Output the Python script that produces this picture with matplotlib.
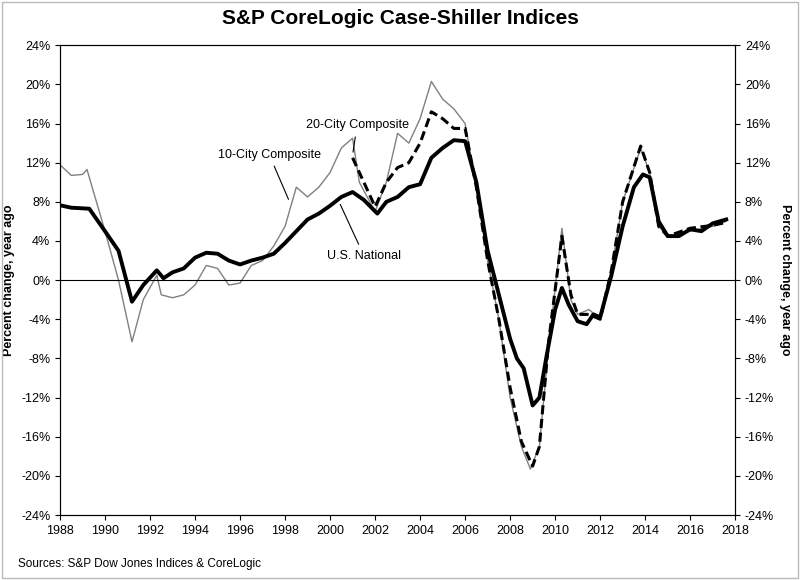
import matplotlib.pyplot as plt
from matplotlib.ticker import MultipleLocator, FuncFormatter

plt.rcParams['font.family'] = ['Liberation Sans', 'DejaVu Sans']

# U.S. National (year, % change)
nat_t = [1987.9, 1988.5, 1989.3, 1990.0, 1990.6, 1991.2, 1991.7, 1992.3, 1992.6, 1993.0, 1993.5, 1994.0,
         1994.5, 1995.0, 1995.5, 1996.0, 1996.5, 1997.0, 1997.5, 1998.0, 1998.5, 1999.0, 1999.5, 2000.0,
         2000.5, 2001.0, 2001.5, 2002.1, 2002.5, 2003.0, 2003.5, 2004.0, 2004.5, 2005.0, 2005.5, 2006.0,
         2006.5, 2007.0, 2007.5, 2008.0, 2008.3, 2008.6, 2009.0, 2009.3, 2009.6, 2010.0, 2010.3, 2010.6,
         2011.0, 2011.4, 2011.7, 2012.0, 2012.5, 2013.0, 2013.5, 2013.9, 2014.2, 2014.6, 2015.0, 2015.5,
         2016.0, 2016.5, 2017.0, 2017.6]
nat_v = [7.7, 7.4, 7.3, 5.0, 3.0, -2.2, -0.5, 1.0, 0.2, 0.8, 1.2, 2.3,
         2.8, 2.7, 2.0, 1.6, 2.0, 2.3, 2.7, 3.8, 5.0, 6.2, 6.8, 7.6,
         8.5, 9.0, 8.2, 6.8, 8.0, 8.5, 9.5, 9.8, 12.5, 13.5, 14.3, 14.2,
         10.0, 3.0, -1.5, -6.0, -8.0, -9.0, -12.8, -12.0, -8.0, -3.0, -0.8, -2.5,
         -4.2, -4.5, -3.5, -3.8, 0.5, 5.5, 9.5, 10.8, 10.5, 6.0, 4.5, 4.5,
         5.2, 5.0, 5.8, 6.2]

# 10-City Composite
c10_t = [1987.9, 1988.5, 1989.0, 1989.2, 1990.0, 1990.6, 1991.2, 1991.7, 1992.3, 1992.5, 1993.0, 1993.5,
         1994.0, 1994.5, 1995.0, 1995.5, 1996.0, 1996.5, 1997.0, 1997.5, 1998.0, 1998.5, 1999.0, 1999.5,
         2000.0, 2000.5, 2001.0, 2001.3, 2002.0, 2002.5, 2003.0, 2003.5, 2004.0, 2004.5, 2005.0, 2005.5,
         2006.0, 2006.5, 2007.0, 2007.5, 2008.0, 2008.5, 2008.9, 2009.3, 2009.7, 2010.3, 2010.7, 2011.0,
         2011.5, 2012.0, 2012.5, 2013.0, 2013.8, 2014.2, 2014.6, 2015.0, 2016.0, 2017.0, 2017.6]
c10_v = [12.0, 10.7, 10.8, 11.3, 5.0, 0.0, -6.3, -2.0, 0.5, -1.5, -1.8, -1.5,
         -0.5, 1.5, 1.2, -0.5, -0.3, 1.5, 2.0, 3.5, 5.5, 9.5, 8.5, 9.5,
         11.0, 13.5, 14.5, 10.0, 7.0, 10.0, 15.0, 14.0, 16.5, 20.3, 18.5, 17.5,
         16.0, 9.5, 2.0, -4.0, -12.0, -17.0, -19.3, -17.0, -7.0, 5.3, -2.0, -3.5,
         -3.0, -4.0, 1.0, 8.0, 13.5, 11.0, 5.5, 4.5, 5.0, 5.5, 6.0]

# 20-City Composite
c20_t = [2001.0, 2001.5, 2002.0, 2002.5, 2003.0, 2003.5, 2004.0, 2004.5, 2005.0, 2005.5, 2006.0, 2006.5,
         2007.0, 2007.5, 2008.0, 2008.5, 2009.0, 2009.3, 2009.7, 2010.3, 2010.7, 2011.0, 2011.5, 2012.0,
         2012.5, 2013.0, 2013.8, 2014.2, 2014.6, 2015.0, 2016.0, 2017.0, 2017.6]
c20_v = [12.5, 10.0, 7.5, 10.0, 11.5, 12.0, 14.0, 17.2, 16.5, 15.5, 15.5, 9.5,
         2.0, -4.0, -11.0, -16.5, -19.0, -17.0, -6.5, 4.5, -1.5, -3.5, -3.5, -4.0,
         1.0, 8.0, 13.7, 11.0, 5.5, 4.5, 5.3, 5.6, 5.9]

fig = plt.figure(figsize=(8, 5.8), dpi=100)
ax = fig.add_axes([0.075, 0.112, 0.844, 0.81])

ax.plot(c10_t, c10_v, color='#808080', lw=1.0)
ax.plot(c20_t, c20_v, color='black', lw=2.2, ls=(0, (3, 1.5)))
ax.plot(nat_t, nat_v, color='black', lw=2.8)
ax.axhline(0, color='black', lw=0.8)

ax.set_xlim(1988, 2018)
ax.set_ylim(-24, 24)
ax.xaxis.set_major_locator(MultipleLocator(2))
ax.yaxis.set_major_locator(MultipleLocator(4))
pct = FuncFormatter(lambda v, p: '%d%%' % v)
ax.yaxis.set_major_formatter(pct)
ax.tick_params(labelsize=9, direction='out')
ax.set_ylabel('Percent change, year ago', fontsize=9, fontweight='bold')

ax2 = ax.twinx()
ax2.set_ylim(-24, 24)
ax2.yaxis.set_major_locator(MultipleLocator(4))
ax2.yaxis.set_major_formatter(pct)
ax2.tick_params(labelsize=9)
ax2.set_ylabel('Percent change, year ago', fontsize=9, fontweight='bold', rotation=270, labelpad=12)

arw = dict(arrowstyle='-', color='black', lw=0.8)
ax.annotate('20-City Composite', xy=(2001.0, 12.8), xytext=(2001.2, 15.5), fontsize=9, ha='center', arrowprops=arw)
ax.annotate('10-City Composite', xy=(1998.2, 8.0), xytext=(1997.3, 12.5), fontsize=9, ha='center', arrowprops=arw)
ax.annotate('U.S. National', xy=(2000.4, 8.0), xytext=(2001.5, 2.2), fontsize=9, ha='center', arrowprops=arw)

fig.suptitle('S&P CoreLogic Case-Shiller Indices', fontsize=15, fontweight='bold', y=0.985)
fig.text(0.022, 0.022, 'Sources: S&P Dow Jones Indices & CoreLogic', fontsize=8.5)
fig.patches.append(plt.Rectangle((0.003, 0.003), 0.994, 0.994, transform=fig.transFigure,
                                 fill=False, edgecolor='#bbbbbb', lw=1))

fig.savefig('out.png', dpi=100)
